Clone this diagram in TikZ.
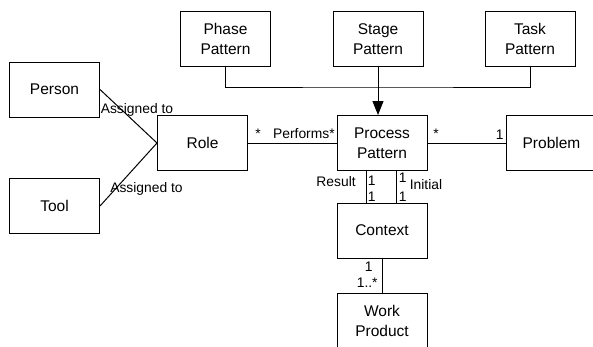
\documentclass[tikz,border=0pt]{standalone}
\usepackage{fontspec}
\setmainfont{Liberation Sans}
\usetikzlibrary{arrows.meta, positioning}

\begin{document}
\begin{tikzpicture}[x=0.6pt, y=0.6pt, >={Triangle[length=8.4pt, width=6.6pt]},
    umlbox/.style={draw, line width=0.6pt, minimum width=54pt,
        minimum height=33pt, align=center, inner sep=0pt,
        font=\fontsize{9.3}{12}\selectfont},
    mult/.style={inner sep=0pt, font=\fontsize{8.3}{10}\selectfont},
    link/.style={line width=0.6pt}]

\useasboundingbox (0,0) rectangle (593,346);

% =========================================================
%  Pattern kinds (top row)
% =========================================================
\node[umlbox] (phase) at (225.5,307) {Phase\\Pattern};
\node[umlbox] (stage) at (378,307)   {Stage\\Pattern};
\node[umlbox] (task)  at (530,307)   {Task\\Pattern};
\coordinate (bus) at (378,259);

% =========================================================
%  Middle row
% =========================================================
\node[umlbox] (person)  at (54.5,256.5) {Person};
\node[umlbox] (tool)    at (54.5,140)   {Tool};
\node[umlbox] (role)    at (202.5,203)  {Role};
\node[umlbox] (pp)      at (382,203)    {Process\\Pattern};
\node[umlbox] (problem) at (551.5,203)  {Problem};

% =========================================================
%  Lower column
% =========================================================
\node[umlbox] (context) at (382,115.5) {Context};
\node[umlbox] (work)    at (382,25)    {Work\\Product};

% --- connectors ---
\draw[link] (phase.south) |- (bus) -| (task.south);
\draw[link, ->] (stage.south) -- (stage.south |- pp.north);

\draw[link] (person.east) -- (role.west);
\draw[link] (tool.east) -- (role.west);
\draw[link] (role) -- (pp);
\draw[link] (pp) -- (problem);

\draw[link] ([xshift=-9.6pt]pp.south) -- ([xshift=-9.6pt]context.north);
\draw[link] ([xshift=8.4pt]pp.south) -- ([xshift=8.4pt]context.north);
\draw[link] (context) -- (work);

% --- association labels ---
\node[mult, anchor=base west] (asgA) at (100.5,233) {Assigned to};
\node[mult, anchor=base west] (asgB) at (110,154)   {Assigned to};
\node[mult, anchor=base west] (mRole) at (255,208)  {*};
\node[mult, anchor=base east] (perf)  at (335,208)  {Performs*};
\node[mult, anchor=base west] (mPP)   at (433,208)  {*};
\node[mult, anchor=base east] (mProb) at (504,207)  {1};

\node[mult, anchor=base east] (res)   at (356,159.5) {Result};
\node[mult, anchor=base west] (rA)    at (367.5,161) {1};
\node[mult, anchor=base west] (rB)    at (367.5,144.5) {1};
\node[mult, anchor=base west] (iA)    at (398.5,164) {1};
\node[mult, anchor=base west] (iB)    at (398.5,144.5) {1};
\node[mult, anchor=base west] (init)  at (409.5,156.5) {Initial};

\node[mult, anchor=base west] (cOne)  at (364.5,74.5) {1};
\node[mult, anchor=base west] (wMany) at (356.5,58.5) {1..*};

\end{tikzpicture}
\end{document}
